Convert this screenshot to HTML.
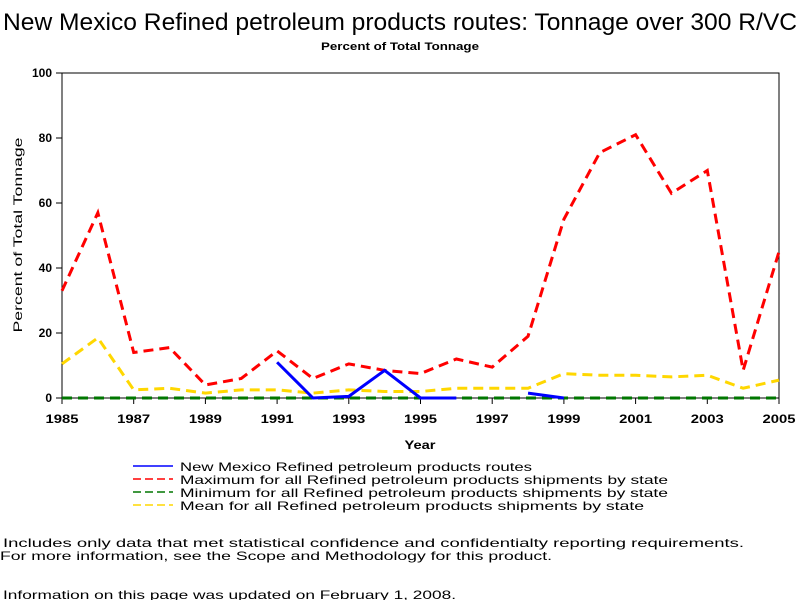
<!DOCTYPE html>
<html><head><meta charset="utf-8"><style>
html,body{margin:0;padding:0;background:#fff;}
svg{display:block;font-family:"Liberation Sans",sans-serif;}
</style></head><body>
<svg id="chart" width="800" height="600" viewBox="0 0 800 600">
<text x="400" y="30" font-size="24" text-anchor="middle" textLength="794" lengthAdjust="spacingAndGlyphs">New Mexico Refined petroleum products routes: Tonnage over 300 R/VC</text>
<text x="400" y="50" font-size="11" font-weight="bold" text-anchor="middle" textLength="158" lengthAdjust="spacingAndGlyphs">Percent of Total Tonnage</text>
<g id="plot"></g>
<text x="420" y="449" font-size="12" font-weight="bold" text-anchor="middle" textLength="31" lengthAdjust="spacingAndGlyphs">Year</text>
<text transform="translate(22,235) rotate(-90)" font-size="12" text-anchor="middle" textLength="195" lengthAdjust="spacingAndGlyphs">Percent of Total Tonnage</text>
<g font-size="12">
 <g><line x1="133" y1="466" x2="173" y2="466" stroke="#0000ff" stroke-width="1.5"/><text x="180" y="471" textLength="352" lengthAdjust="spacingAndGlyphs">New Mexico Refined petroleum products routes</text></g>
 <g><line x1="133" y1="479" x2="173" y2="479" stroke="#ff0000" stroke-width="1.5" stroke-dasharray="8,4"/><text x="180" y="484" textLength="488" lengthAdjust="spacingAndGlyphs">Maximum for all Refined petroleum products shipments by state</text></g>
 <g><line x1="133" y1="492" x2="173" y2="492" stroke="#007700" stroke-width="1.5" stroke-dasharray="8,4"/><text x="180" y="497" textLength="488" lengthAdjust="spacingAndGlyphs">Minimum for all Refined petroleum products shipments by state</text></g>
 <g><line x1="133" y1="505" x2="173" y2="505" stroke="#ffd700" stroke-width="1.5" stroke-dasharray="8,4"/><text x="180" y="510" textLength="464" lengthAdjust="spacingAndGlyphs">Mean for all Refined petroleum products shipments by state</text></g>
</g>
<g font-size="12">
 <text x="3" y="547" textLength="741" lengthAdjust="spacingAndGlyphs">Includes only data that met statistical confidence and confidentialty reporting requirements.</text>
 <text x="0" y="560" textLength="552" lengthAdjust="spacingAndGlyphs">For more information, see the Scope and Methodology for this product.</text>
 <text x="3" y="599" textLength="453" lengthAdjust="spacingAndGlyphs">Information on this page was updated on February 1, 2008.</text>
</g>
</svg>
<script>
const years = [1985,1986,1987,1988,1989,1990,1991,1992,1993,1994,1995,1996,1997,1998,1999,2000,2001,2002,2003,2004,2005];
const maxVals = [33,57,14,15.5,4,6,14.5,6,10.5,8.5,7.5,12,9.5,19,55,75.5,81,63,70,8.5,45];
const minVals = [0,0,0,0,0,0,0,0,0,0,0,0,0,0,0,0,0,0,0,0,0];
const meanVals = [10.5,18.5,2.5,3,1.5,2.5,2.5,1.5,2.5,2,2,3,3,3,7.5,7,7,6.5,7,3,5.5];
const nmVals = [null,null,null,null,null,null,11,0,0.5,8.5,0,0,null,1.5,0,null,null,null,null,null,null];
const xTicks = [1985,1987,1989,1991,1993,1995,1997,1999,2001,2003,2005];
const yTicks = [0,20,40,60,80,100];

const NS="http://www.w3.org/2000/svg";
const L=62,R=779,T=73,B=398;
const xs=y=>L+(y-1985)/(2005-1985)*(R-L);
const ys=v=>B-v/100*(B-T);
const g=document.getElementById('plot');
function mk(tag,attrs){const e=document.createElementNS(NS,tag);for(const k in attrs)e.setAttribute(k,attrs[k]);g.appendChild(e);return e;}
const frame=mk('rect',{x:L,y:T,width:R-L,height:B-T,fill:'none',stroke:'#000','stroke-width':1});


xTicks.forEach(t=>{
 const ln=mk('line',{x1:xs(t),x2:xs(t),y1:B,y2:B+6,stroke:'#000'});
 
 
 const tx=mk('text',{x:xs(t),y:B+25,'font-size':12,'font-weight':'bold','text-anchor':'middle',textLength:33,lengthAdjust:'spacingAndGlyphs'});
 tx.textContent=t;
 
 
});
yTicks.forEach(t=>{
 const ln=mk('line',{x1:L-6,x2:L,y1:ys(t),y2:ys(t),stroke:'#000'});
 
 
 const tx=mk('text',{x:L-10,y:ys(t)+4,'font-size':12,'font-weight':'bold','text-anchor':'end'});
 tx.textContent=t;
 
 
});
function series(vals,color,dash,w,name){
 let segs=[],cur=[];
 vals.forEach((v,i)=>{if(v===null){if(cur.length)segs.push(cur);cur=[];}else cur.push([xs(years[i]),ys(v)]);});
 if(cur.length)segs.push(cur);
 segs.forEach(s=>{
  const p=mk('polyline',{points:s.map(q=>q.join(',')).join(' '),fill:'none',stroke:color,'stroke-width':w,'stroke-dasharray':dash});
  
  
 });
}
series(meanVals,'#ffd700','10,6',3,'mean-line');
series(maxVals,'#ff0000','10,6',3,'maximum-line');
series(minVals,'#007700','10,6',3,'minimum-line');
series(nmVals,'#0000ff','none',3,'new-mexico-line');
</script>
</body></html>
